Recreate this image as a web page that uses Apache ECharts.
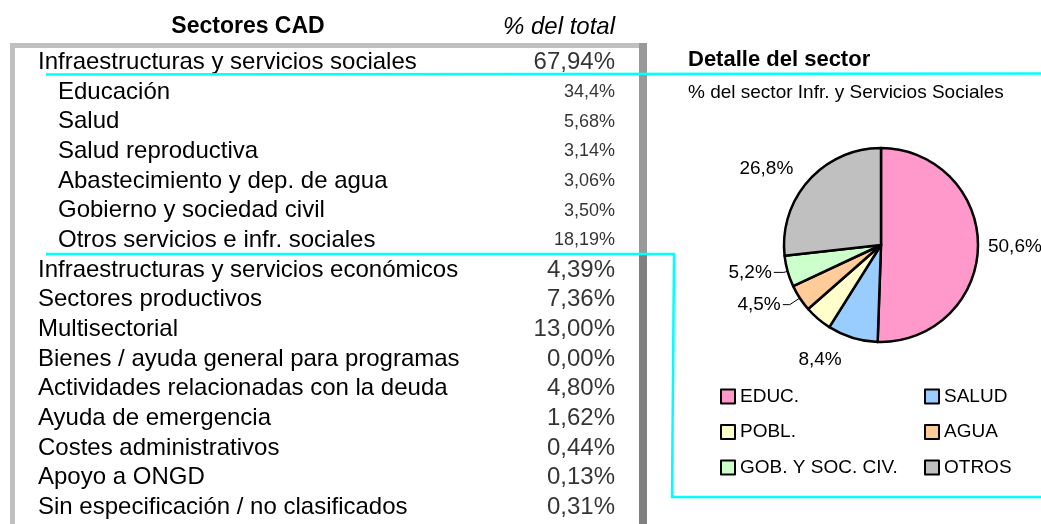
<!DOCTYPE html>
<html>
<head>
<meta charset="utf-8">
<script src="https://cdn.jsdelivr.net/npm/echarts@6/dist/echarts.min.js"></script>
<style>
  html, body { margin: 0; padding: 0; background: #fff; }
  #chart { width: 1041px; height: 524px; }
</style>
</head>
<body>
<div id="chart"></div>
<script>
// table rows (level 1 = detail row of the first sector)
const rowNames = [
  "Infraestructuras y servicios sociales",
  "Educación",
  "Salud",
  "Salud reproductiva",
  "Abastecimiento y dep. de agua",
  "Gobierno y sociedad civil",
  "Otros servicios e infr. sociales",
  "Infraestructuras y servicios económicos",
  "Sectores productivos",
  "Multisectorial",
  "Bienes / ayuda general para programas",
  "Actividades relacionadas con la deuda",
  "Ayuda de emergencia",
  "Costes administrativos",
  "Apoyo a ONGD",
  "Sin especificación / no clasificados"
];
const rowLevels = [0, 1, 1, 1, 1, 1, 1, 0, 0, 0, 0, 0, 0, 0, 0, 0];
const rowValues = [67.94, 34.4, 5.68, 3.14, 3.06, 3.50, 18.19, 4.39, 7.36, 13.00, 0.00, 4.80, 1.62, 0.44, 0.13, 0.31];
const rowDecimals = [2, 1, 2, 2, 2, 2, 2, 2, 2, 2, 2, 2, 2, 2, 2, 2];

// pie: % of the social infrastructure sector
const pieNames = ["EDUC.", "SALUD", "POBL.", "AGUA", "GOB. Y SOC. CIV.", "OTROS"];
const pieShares = [50.6, 8.4, 4.6, 4.5, 5.2, 26.8];

const palette = ["#FF99CC", "#99CCFF", "#FFFFCC", "#FFCC99", "#CCFFCC", "#C0C0C0"];
const FONT = "'Liberation Sans', Arial, sans-serif";
const ROW_H = 29.67;

function fmt(v, d) {
  return v.toFixed(d).replace(".", ",") + "%";
}

// label placement tweaks for each slice
const sliceLabels = [
  { line: false, len: 5, len2: 3 },
  { line: false, len: 23, len2: 2 },
  { hide: true },
  { line: true, len: 12, len2: 7 },
  { line: true, len: 4, len2: 10 },
  { line: false, len: 18, len2: 0 }
];

const chart = echarts.init(document.getElementById("chart"));

const legendBase = {
  orient: "vertical",
  top: 382,
  itemWidth: 14,
  itemHeight: 14,
  itemGap: 16.5,
  icon: "rect",
  itemStyle: { borderColor: "#000", borderWidth: 2 },
  textStyle: { fontSize: 19, fontFamily: FONT, color: "#000" }
};

const option = {
  animation: false,
  backgroundColor: "#fff",
  textStyle: { fontFamily: FONT, color: "#000" },
  graphic: [
    // table frame
    { type: "rect", shape: { x: 10, y: 43, width: 5, height: 481 }, style: { fill: "#C0C0C0" }, silent: true },
    { type: "rect", shape: { x: 10, y: 43, width: 629, height: 5 }, style: { fill: "#C0C0C0" }, silent: true },
    { type: "rect", shape: { x: 639, y: 43, width: 8, height: 211 }, style: { fill: "#999999" }, silent: true },
    { type: "rect", shape: { x: 639, y: 254, width: 8, height: 270 }, style: { fill: "#808080" }, silent: true },
    // headers
    { type: "text", x: 248, y: 27, style: { text: "Sectores CAD", font: "bold 23px " + FONT, fill: "#000", textAlign: "center", textVerticalAlign: "middle" } },
    { type: "text", x: 615, y: 27, style: { text: "% del total", font: "italic 24px " + FONT, fill: "#000", textAlign: "right", textVerticalAlign: "middle" } },
    { type: "text", x: 688, y: 60, style: { text: "Detalle del sector", font: "bold 22px " + FONT, fill: "#000", textVerticalAlign: "middle" } },
    { type: "text", x: 688, y: 93, style: { text: "% del sector Infr. y Servicios Sociales", font: "19px " + FONT, fill: "#000", textVerticalAlign: "middle" } },
    // cyan connectors
    { type: "polyline", z: 10, shape: { points: [[46, 74.5], [1041, 73.5]] }, style: { stroke: "#00FFFF", lineWidth: 2.5, fill: null }, silent: true },
    { type: "polyline", z: 10, shape: { points: [[46, 254], [674, 254], [672, 497], [1041, 497]] }, style: { stroke: "#00FFFF", lineWidth: 2.5, fill: null }, silent: true }
  ],
  grid: {
    left: 30,
    right: 1041 - 615,
    top: 47.5,
    height: ROW_H * rowNames.length
  },
  xAxis: { type: "value", min: 0, max: 1, show: false },
  yAxis: {
    type: "category",
    inverse: true,
    data: rowNames,
    axisLine: { show: false },
    axisTick: { show: false },
    splitLine: { show: false },
    axisLabel: {
      inside: true,
      interval: 0,
      margin: 8,
      color: "#000",
      fontFamily: FONT,
      fontSize: 24,
      formatter: (v, i) => (rowLevels[i] ? "{sub|" + v + "}" : "{main|" + v + "}"),
      rich: {
        main: { fontSize: 24, fontFamily: FONT, color: "#000" },
        sub: { fontSize: 24, fontFamily: FONT, color: "#000", padding: [0, 0, 0, 20] }
      }
    }
  },
  legend: [
    Object.assign({}, legendBase, { left: 715, data: [pieNames[0], pieNames[2], pieNames[4]] }),
    Object.assign({}, legendBase, { left: 919, data: [pieNames[1], pieNames[3], pieNames[5]] })
  ],
  series: [
    {
      type: "scatter",
      symbolSize: 0,
      silent: true,
      data: rowValues.map((v, i) => ({
        value: [1, i],
        label: {
          show: true,
          position: "left",
          distance: 0,
          color: "#000",
          fontFamily: FONT,
          fontSize: rowLevels[i] ? 18 : 24,
          formatter: () => fmt(v, rowDecimals[i])
        }
      }))
    },
    {
      type: "pie",
      center: [881, 245],
      radius: 97,
      startAngle: 90,
      clockwise: true,
      avoidLabelOverlap: false,
      silent: true,
      itemStyle: { borderColor: "#000", borderWidth: 2.5 },
      label: {
        show: true,
        position: "outside",
        color: "#000",
        fontFamily: FONT,
        fontSize: 19,
        distanceToLabelLine: 2,
        formatter: (p) => fmt(p.value, 1)
      },
      labelLine: { lineStyle: { color: "#000", width: 1 } },
      data: pieShares.map((v, i) => {
        const s = sliceLabels[i];
        return {
          name: pieNames[i],
          value: v,
          itemStyle: { color: palette[i] },
          label: { show: !s.hide },
          labelLine: { show: !!s.line, length: s.len || 5, length2: s.len2 || 0 }
        };
      })
    }
  ]
};

chart.setOption(option);
</script>
</body>
</html>
